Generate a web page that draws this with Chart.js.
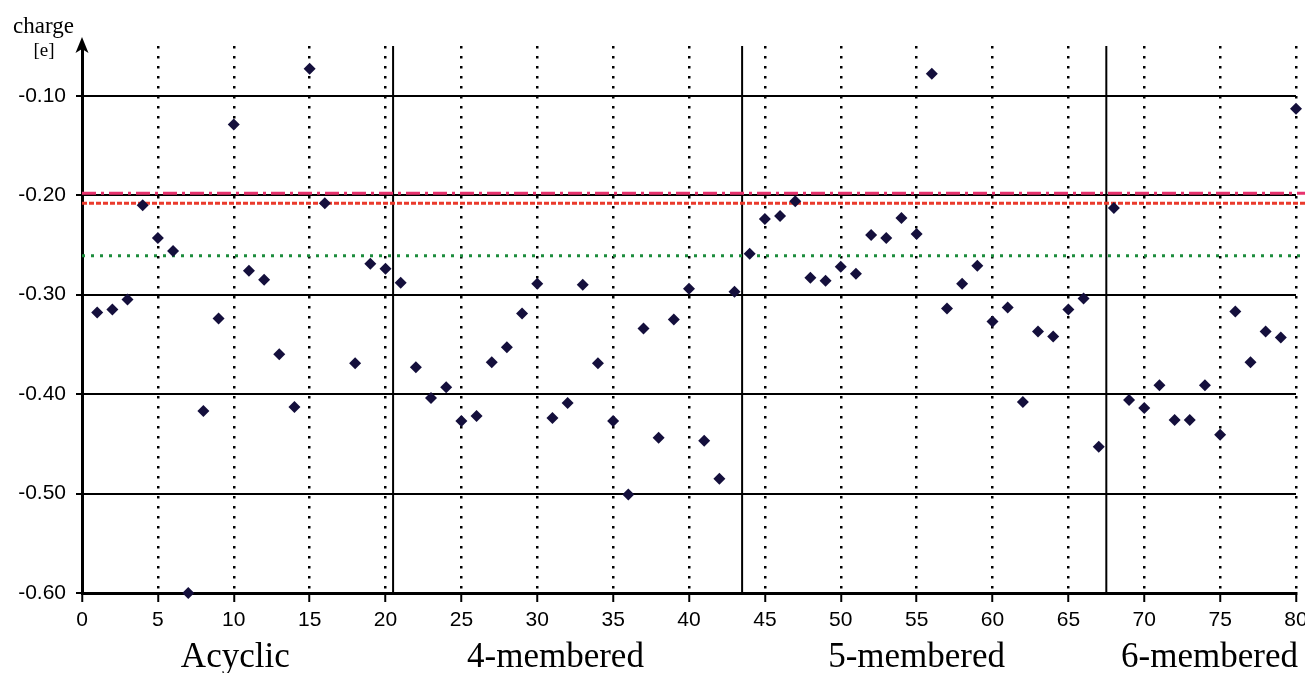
<!DOCTYPE html>
<html>
<head>
<meta charset="utf-8">
<script src="https://cdn.jsdelivr.net/npm/chart.js@4.4.0/dist/chart.umd.min.js"></script>
<style>
  html, body { margin: 0; padding: 0; background: #fff; }
  #wrap { width: 1305px; height: 673px; position: relative; }
</style>
</head>
<body>
<div id="wrap"><canvas id="chargeChart"></canvas></div>
<script>
// compound index (x) and charge in e (y)
const compoundIndex = [1, 2, 3, 4, 5, 6, 7, 8, 9, 10, 11, 12, 13, 14, 15, 16, 18, 19, 20,
    21, 22, 23, 24, 25, 26, 27, 28, 29, 30, 31, 32, 33, 34, 35, 36, 37, 38, 39, 40,
    41, 42, 43, 44, 45, 46, 47, 48, 49, 50, 51, 52, 53, 54, 55, 56, 57, 58, 59, 60,
    61, 62, 63, 64, 65, 66, 67, 68, 69, 70, 71, 72, 73, 74, 75, 76, 77, 78, 79, 80];
const charges = [-0.318, -0.315, -0.305, -0.210, -0.243, -0.256, -0.600, -0.417, -0.324, -0.129,
    -0.276, -0.285, -0.360, -0.413, -0.073, -0.208, -0.369, -0.269, -0.274,
    -0.288, -0.373, -0.404, -0.393, -0.427, -0.422, -0.368, -0.353, -0.319, -0.289,
    -0.424, -0.409, -0.290, -0.369, -0.427, -0.501, -0.334, -0.444, -0.325, -0.294,
    -0.447, -0.485, -0.297, -0.259, -0.224, -0.221, -0.206, -0.283, -0.286, -0.272,
    -0.279, -0.240, -0.243, -0.223, -0.239, -0.078, -0.314, -0.289, -0.271, -0.327,
    -0.313, -0.408, -0.337, -0.342, -0.315, -0.304, -0.453, -0.213, -0.406, -0.414,
    -0.391, -0.426, -0.426, -0.391, -0.441, -0.317, -0.368, -0.337, -0.343, -0.113];

// horizontal reference levels
const refLevels = [-0.198, -0.208, -0.261];
const refColors = ['#e8336e', '#ea3a2c', '#1c8c3c'];
const refDashes = [[14, 5, 3, 5], [5, 2], [3, 6]];

// group separators and group names
const groupBounds = [20.5, 43.5, 67.5];
const groupNames = ['Acyclic', '4-membered', '5-membered', '6-membered'];
const groupCenters = [10.1, 31.2, 55.0, 74.3];

const xTicks = [0, 5, 10, 15, 20, 25, 30, 35, 40, 45, 50, 55, 60, 65, 70, 75, 80];
const yTicks = [-0.60, -0.50, -0.40, -0.30, -0.20, -0.10];
const yMin = -0.60, yMax = -0.05, xMin = 0, xMax = 80;

const datasets = [];
datasets.push({
    label: 'charge',
    data: compoundIndex.map((x, i) => ({ x: x, y: charges[i] })),
    pointStyle: 'rectRot',
    pointRadius: 6,
    pointBackgroundColor: '#140f3c',
    pointBorderColor: '#140f3c',
    pointBorderWidth: 0,
    showLine: false,
    clip: false,
    order: 0
});
refLevels.forEach((lvl, i) => {
    datasets.push({
        label: 'ref' + i,
        data: [{ x: xMin, y: lvl }, { x: xMax + 1, y: lvl }],
        showLine: true,
        borderColor: refColors[i],
        borderWidth: 3,
        borderDash: refDashes[i],
        pointRadius: 0,
        clip: false,
        order: 1
    });
});
groupBounds.forEach((b, i) => {
    datasets.push({
        label: 'sep' + i,
        data: [{ x: b, y: yMin }, { x: b, y: yMax }],
        showLine: true,
        borderColor: '#000',
        borderWidth: 2,
        pointRadius: 0,
        order: 2
    });
});

// y axis arrow, axis title and group names
const decorPlugin = {
    id: 'decor',
    afterDraw(chart) {
        const ctx = chart.ctx;
        const xs = chart.scales.x;
        const ax = xs.getPixelForValue(0);
        const top = chart.chartArea.top;
        ctx.save();
        ctx.fillStyle = '#000';
        ctx.strokeStyle = '#000';
        ctx.lineWidth = 3;
        ctx.beginPath();
        ctx.moveTo(ax, top);
        ctx.lineTo(ax, top - 4);
        ctx.stroke();
        ctx.beginPath();
        ctx.moveTo(ax, top - 9);
        ctx.lineTo(ax - 6.5, top + 7);
        ctx.lineTo(ax, top + 3);
        ctx.lineTo(ax + 6.5, top + 7);
        ctx.closePath();
        ctx.fill();

        ctx.font = '23px "Liberation Serif", "Times New Roman", serif';
        ctx.textAlign = 'left';
        ctx.textBaseline = 'alphabetic';
        ctx.fillText('charge', 13, 33);
        ctx.font = '19px "Liberation Serif", "Times New Roman", serif';
        ctx.textAlign = 'center';
        ctx.fillText('[e]', 44, 56);

        ctx.font = '35px "Liberation Serif", "Times New Roman", serif';
        groupNames.forEach((name, i) => {
            ctx.fillText(name, xs.getPixelForValue(groupCenters[i]), 667);
        });
        ctx.restore();
    }
};

new Chart(document.getElementById('chargeChart').getContext('2d'), {
    type: 'scatter',
    data: { datasets: datasets },
    options: {
        responsive: true,
        maintainAspectRatio: false,
        animation: false,
        layout: { padding: { top: 46, right: 9, left: 0, bottom: 0 } },
        plugins: {
            legend: { display: false },
            tooltip: { enabled: false }
        },
        scales: {
            x: {
                type: 'linear',
                min: xMin,
                max: xMax,
                afterBuildTicks: (scale) => { scale.ticks = xTicks.map(v => ({ value: v })); },
                afterFit: (scale) => {
                    scale.height = 80;
                    scale.paddingLeft = 0;
                    scale.paddingRight = 0;
                },
                ticks: {
                    color: '#000',
                    padding: 6,
                    maxRotation: 0,
                    autoSkip: false,
                    font: { family: '"Liberation Sans", Arial, sans-serif', size: 21 }
                },
                grid: {
                    color: '#000',
                    lineWidth: 2.5,
                    tickLength: 9,
                    tickWidth: 2,
                    tickColor: '#000'
                },
                border: { display: true, color: '#000', width: 3, dash: [2.5, 7.5] }
            },
            y: {
                type: 'linear',
                min: yMin,
                max: yMax,
                afterBuildTicks: (scale) => { scale.ticks = yTicks.map(v => ({ value: v })); },
                afterFit: (scale) => { scale.width = 82; },
                ticks: {
                    color: '#000',
                    padding: 10,
                    callback: (v) => v.toFixed(2),
                    font: { family: '"Liberation Sans", Arial, sans-serif', size: 21 }
                },
                grid: {
                    color: '#000',
                    lineWidth: 2,
                    tickLength: 6,
                    tickWidth: 2,
                    tickColor: '#000'
                },
                border: { display: true, color: '#000', width: 3 }
            }
        }
    },
    plugins: [decorPlugin]
});
</script>
</body>
</html>
